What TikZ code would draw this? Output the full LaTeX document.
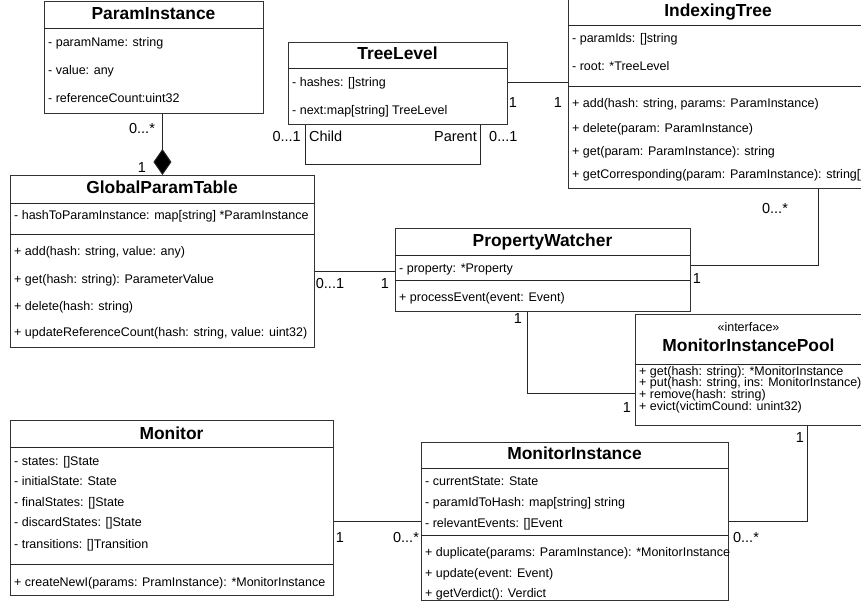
\documentclass[tikz,border=0pt]{standalone}
\usepackage{fontspec}
\setmainfont{Liberation Sans}
\usetikzlibrary{calc,arrows.meta}
\begin{document}
\begin{tikzpicture}[x=1pt,y=-1pt,
  line/.style={draw=black!85, line width=0.9pt},
  cls/.style={draw=black!80, line width=0.9pt, fill=white, rectangle, inner sep=0pt, anchor=north west},
  ttl/.style={font=\fontsize{17.4}{20}\selectfont\bfseries, inner sep=0pt, text height=12.5pt, text depth=3.5pt},
  stereo/.style={font=\fontsize{12.5}{15}\selectfont, inner sep=0pt, text height=9pt, text depth=2.5pt},
  mem/.style={font=\fontsize{12.5}{15}\selectfont, anchor=west, inner sep=0pt, text height=9pt, text depth=2.5pt},
  mult/.style={font=\fontsize{14.5}{17}\selectfont, inner sep=0pt, text height=10.4pt, text depth=0pt}
]
\useasboundingbox (0,0) rectangle (861,605);
\clip (0,0) rectangle (861,605);

% ---------- ParamInstance ----------
\node[cls, minimum width=219pt, minimum height=112pt] (pi) at (44,1) {};
\draw[line] (44,28) -- (263,28);
\node[ttl] at (153.5,14.5) {ParamInstance};
\node[mem] at (48,43) {- paramName: string};
\node[mem] at (48,71) {- value: any};
\node[mem] at (48,99) {- referenceCount:uint32};

% ---------- TreeLevel ----------
\node[cls, minimum width=219pt, minimum height=82pt] (tl) at (288,42) {};
\draw[line] (288,68) -- (507,68);
\node[ttl] at (397.5,55) {TreeLevel};
\node[mem] at (292,83) {- hashes: []string};
\node[mem] at (292,111) {- next:map[string] TreeLevel};

% ---------- IndexingTree ----------
\node[cls, minimum width=300pt, minimum height=191pt] (it) at (568,-3) {};
\draw[line] (568,25) -- (868,25);
\draw[line] (568,86) -- (868,86);
\node[ttl] at (718,12) {IndexingTree};
\node[mem] at (572,39) {- paramIds: []string};
\node[mem] at (572,67) {- root: *TreeLevel};
\node[mem] at (572,104) {+ add(hash: string, params: ParamInstance)};
\node[mem] at (572,129) {+ delete(param: ParamInstance)};
\node[mem] at (572,152) {+ get(param: ParamInstance): string};
\node[mem] at (572,175) {+ getCorresponding(param: ParamInstance): string[]};

% ---------- GlobalParamTable ----------
\node[cls, minimum width=304pt, minimum height=172pt] (gpt) at (10,175) {};
\draw[line] (10,203) -- (314,203);
\draw[line] (10,234) -- (314,234);
\node[ttl] at (162,189) {GlobalParamTable};
\node[mem] at (14,216) {- hashToParamInstance: map[string] *ParamInstance};
\node[mem] at (14,252) {+ add(hash: string, value: any)};
\node[mem] at (14,280) {+ get(hash: string): ParameterValue};
\node[mem] at (14,307) {+ delete(hash: string)};
\node[mem] at (14,333) {+ updateReferenceCount(hash: string, value: uint32)};

% ---------- PropertyWatcher ----------
\node[cls, minimum width=295pt, minimum height=83pt] (pw) at (395,228) {};
\draw[line] (395,255) -- (690,255);
\draw[line] (395,280) -- (690,280);
\node[ttl] at (542.5,242) {PropertyWatcher};
\node[mem] at (399,269) {- property: *Property};
\node[mem] at (399,298) {+ processEvent(event: Event)};

% ---------- MonitorInstancePool ----------
\node[cls, minimum width=228pt, minimum height=111pt] (mip) at (635,314) {};
\draw[line] (635,364) -- (863,364);
\node[stereo] at (748.5,328) {«interface»};
\node[ttl] at (748.5,347) {MonitorInstancePool};
\node[mem] at (639,372) {+ get(hash: string): *MonitorInstance};
\node[mem] at (639,383.7) {+ put(hash: string, ins: MonitorInstance)};
\node[mem] at (639,395.3) {+ remove(hash: string)};
\node[mem] at (639,407) {+ evict(victimCound: unint32)};

% ---------- Monitor ----------
\node[cls, minimum width=323pt, minimum height=175pt] (mon) at (10,420) {};
\draw[line] (10,447) -- (333,447);
\draw[line] (10,564) -- (333,564);
\node[ttl] at (171.5,435) {Monitor};
\node[mem] at (14,462) {- states: []State};
\node[mem] at (14,482) {- initialState: State};
\node[mem] at (14,503) {- finalStates: []State};
\node[mem] at (14,523) {- discardStates: []State};
\node[mem] at (14,545) {- transitions: []Transition};
\node[mem] at (14,583) {+ createNewI(params: PramInstance): *MonitorInstance};

% ---------- MonitorInstance ----------
\node[cls, minimum width=307pt, minimum height=158pt] (mi) at (421,442) {};
\draw[line] (421,468) -- (728,468);
\draw[line] (421,535) -- (728,535);
\node[ttl] at (574.5,455) {MonitorInstance};
\node[mem] at (425,482) {- currentState: State};
\node[mem] at (425,503) {- paramIdToHash: map[string] string};
\node[mem] at (425,524) {- relevantEvents: []Event};
\node[mem] at (425,553) {+ duplicate(params: ParamInstance): *MonitorInstance};
\node[mem] at (425,574) {+ update(event: Event)};
\node[mem] at (425,594) {+ getVerdict(): Verdict};

% ---------- connectors ----------
% composition: GlobalParamTable owns ParamInstance
\draw[line, -{Diamond[length=26pt,width=18pt,fill=black]}] (gpt.north |- pi.south) -- (gpt.north);
\node[mult] at (142,128) {0...*};
\node[mult] at (142,167) {1};

% TreeLevel self association
\draw[line] ([xshift=17pt]tl.south west) |- ++(0,40) -| ([xshift=-27pt]tl.south east);
\node[mult, anchor=east] at (301,136) {0...1};
\node[mult, anchor=west] at (309,136) {Child};
\node[mult, anchor=east] at (477,136) {Parent};
\node[mult, anchor=west] at (489,136) {0...1};

% TreeLevel -- IndexingTree
\draw[line] ([yshift=1pt]tl.east) -- ([yshift=1pt]tl.east -| it.west);
\node[mult] at (513,102) {1};
\node[mult] at (558,102) {1};

% GlobalParamTable -- PropertyWatcher
\draw[line] ([yshift=-1.5pt]pw.west -| gpt.east) -- ([yshift=-1.5pt]pw.west);
\node[mult] at (330,283) {0...1};
\node[mult] at (385,283) {1};

% PropertyWatcher -- IndexingTree
\draw[line] ([yshift=4.5pt]pw.east) -| ([xshift=100pt]it.south);
\node[mult] at (697,278) {1};
\node[mult] at (775,208) {0...*};

% PropertyWatcher -- MonitorInstancePool
\draw[line] ([xshift=-15.5pt]pw.south) |- ([yshift=-23.5pt]mip.west);
\node[mult] at (518,318) {1};
\node[mult] at (627,407) {1};

% MonitorInstancePool -- MonitorInstance
\draw[line] ([xshift=58pt]mip.south) |- ([yshift=0.5pt]mi.east);
\node[mult] at (800,437) {1};
\node[mult] at (746,537) {0...*};

% Monitor -- MonitorInstance
\draw[line] ([yshift=0.5pt]mi.west -| mon.east) -- ([yshift=0.5pt]mi.west);
\node[mult] at (340,537) {1};
\node[mult] at (406,537) {0...*};
\end{tikzpicture}
\end{document}
